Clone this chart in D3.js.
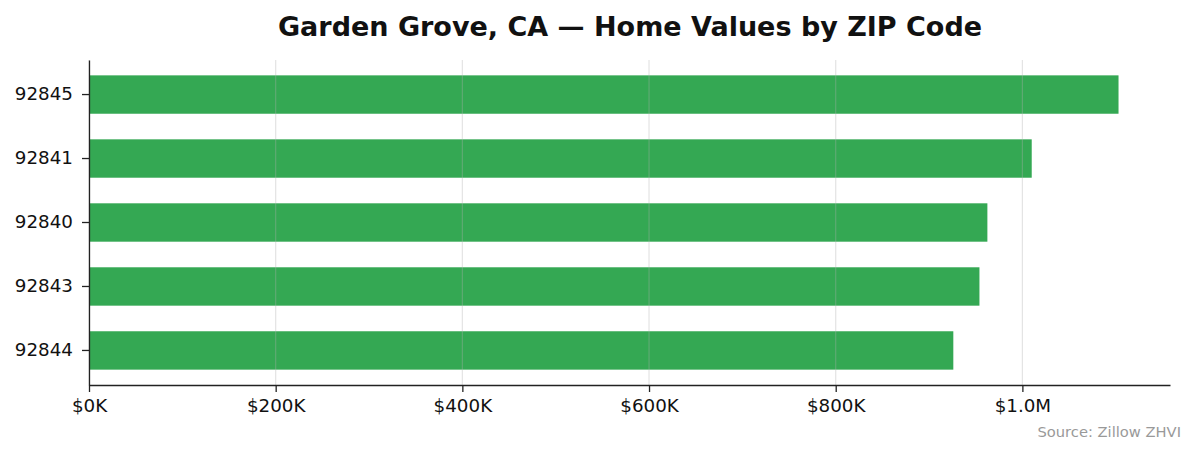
<!DOCTYPE html>
<meta charset="utf-8">
<style>
body { margin: 0; background: #fff; }
svg { font-family: "DejaVu Sans", sans-serif; }
.axis path, .axis line { stroke: #222; }
.axis text { fill: #111; font-size: 18.3px; }
</style>
<body>
<script src="https://d3js.org/d3.v7.min.js"></script>
<script>

var zips = ["92845", "92841", "92840", "92843", "92844"]
var values = [1103000, 1010000, 962500, 954000, 926000]
var xTicks = [0, 200000, 400000, 600000, 800000, 1000000]
var tickLabels = ["$0K", "$200K", "$400K", "$600K", "$800K", "$1.0M"]

var width = 1195
var height = 455

var margin = {top: 60, right: 25, bottom: 70, left: 89},
    w = width - margin.left - margin.right,
    h = height - margin.top - margin.bottom

var svg = d3.select("body").append("svg")
    .attr("width", width)
    .attr("height", height)

var x = d3.scaleLinear()
    .domain([0, d3.max(values) * 1.05])
    .range([0, w])

// bar is 0.6 of each band step
var y = d3.scaleBand()
    .domain(zips)
    .range([0, h])
    .paddingInner(0.4)
    .paddingOuter(0.24)

var g = svg.append("g")
    .attr("transform", "translate(" + margin.left + "," + margin.top + ")")

g.selectAll(".bar")
    .data(values)
  .enter().append("rect")
    .attr("class", "bar")
    .attr("x", 0)
    .attr("y", function(d, i) { return y(zips[i]) })
    .attr("width", function(d) { return x(d) })
    .attr("height", y.bandwidth())
    .attr("fill", "#34a853")

// grid on top, faint
g.selectAll(".grid")
    .data(xTicks)
  .enter().append("line")
    .attr("class", "grid")
    .attr("x1", function(d) { return x(d) })
    .attr("x2", function(d) { return x(d) })
    .attr("y1", 0)
    .attr("y2", h)
    .attr("stroke", "#b0b0b0")
    .attr("stroke-opacity", 0.35)
    .attr("stroke-width", 1.2)

var xa = g.append("g")
    .attr("class", "x axis")
    .attr("transform", "translate(0," + h + ")")
    .call(d3.axisBottom(x).tickValues(xTicks)
      .tickFormat(function(d, i) { return tickLabels[i] })
      .tickSize(7).tickSizeOuter(0).tickPadding(7))
xa.select(".domain").attr("stroke-width", 1.3)
xa.selectAll(".tick line").attr("stroke-width", 1.3)

var ya = g.append("g")
    .attr("class", "y axis")
    .call(d3.axisLeft(y).tickSize(7).tickSizeOuter(0).tickPadding(9))
ya.select(".domain").attr("stroke-width", 1.3)
ya.selectAll(".tick line").attr("stroke-width", 1.3)

svg.selectAll(".axis text").attr("font-family", "DejaVu Sans, sans-serif")

svg.append("text")
    .attr("x", 630)
    .attr("y", 36)
    .attr("text-anchor", "middle")
    .attr("font-size", "27px")
    .attr("font-weight", "bold")
    .attr("fill", "#111")
    .text("Garden Grove, CA — Home Values by ZIP Code")

svg.append("text")
    .attr("x", 1181)
    .attr("y", 437)
    .attr("text-anchor", "end")
    .attr("font-size", "14.7px")
    .attr("fill", "#999")
    .text("Source: Zillow ZHVI")

</script>
